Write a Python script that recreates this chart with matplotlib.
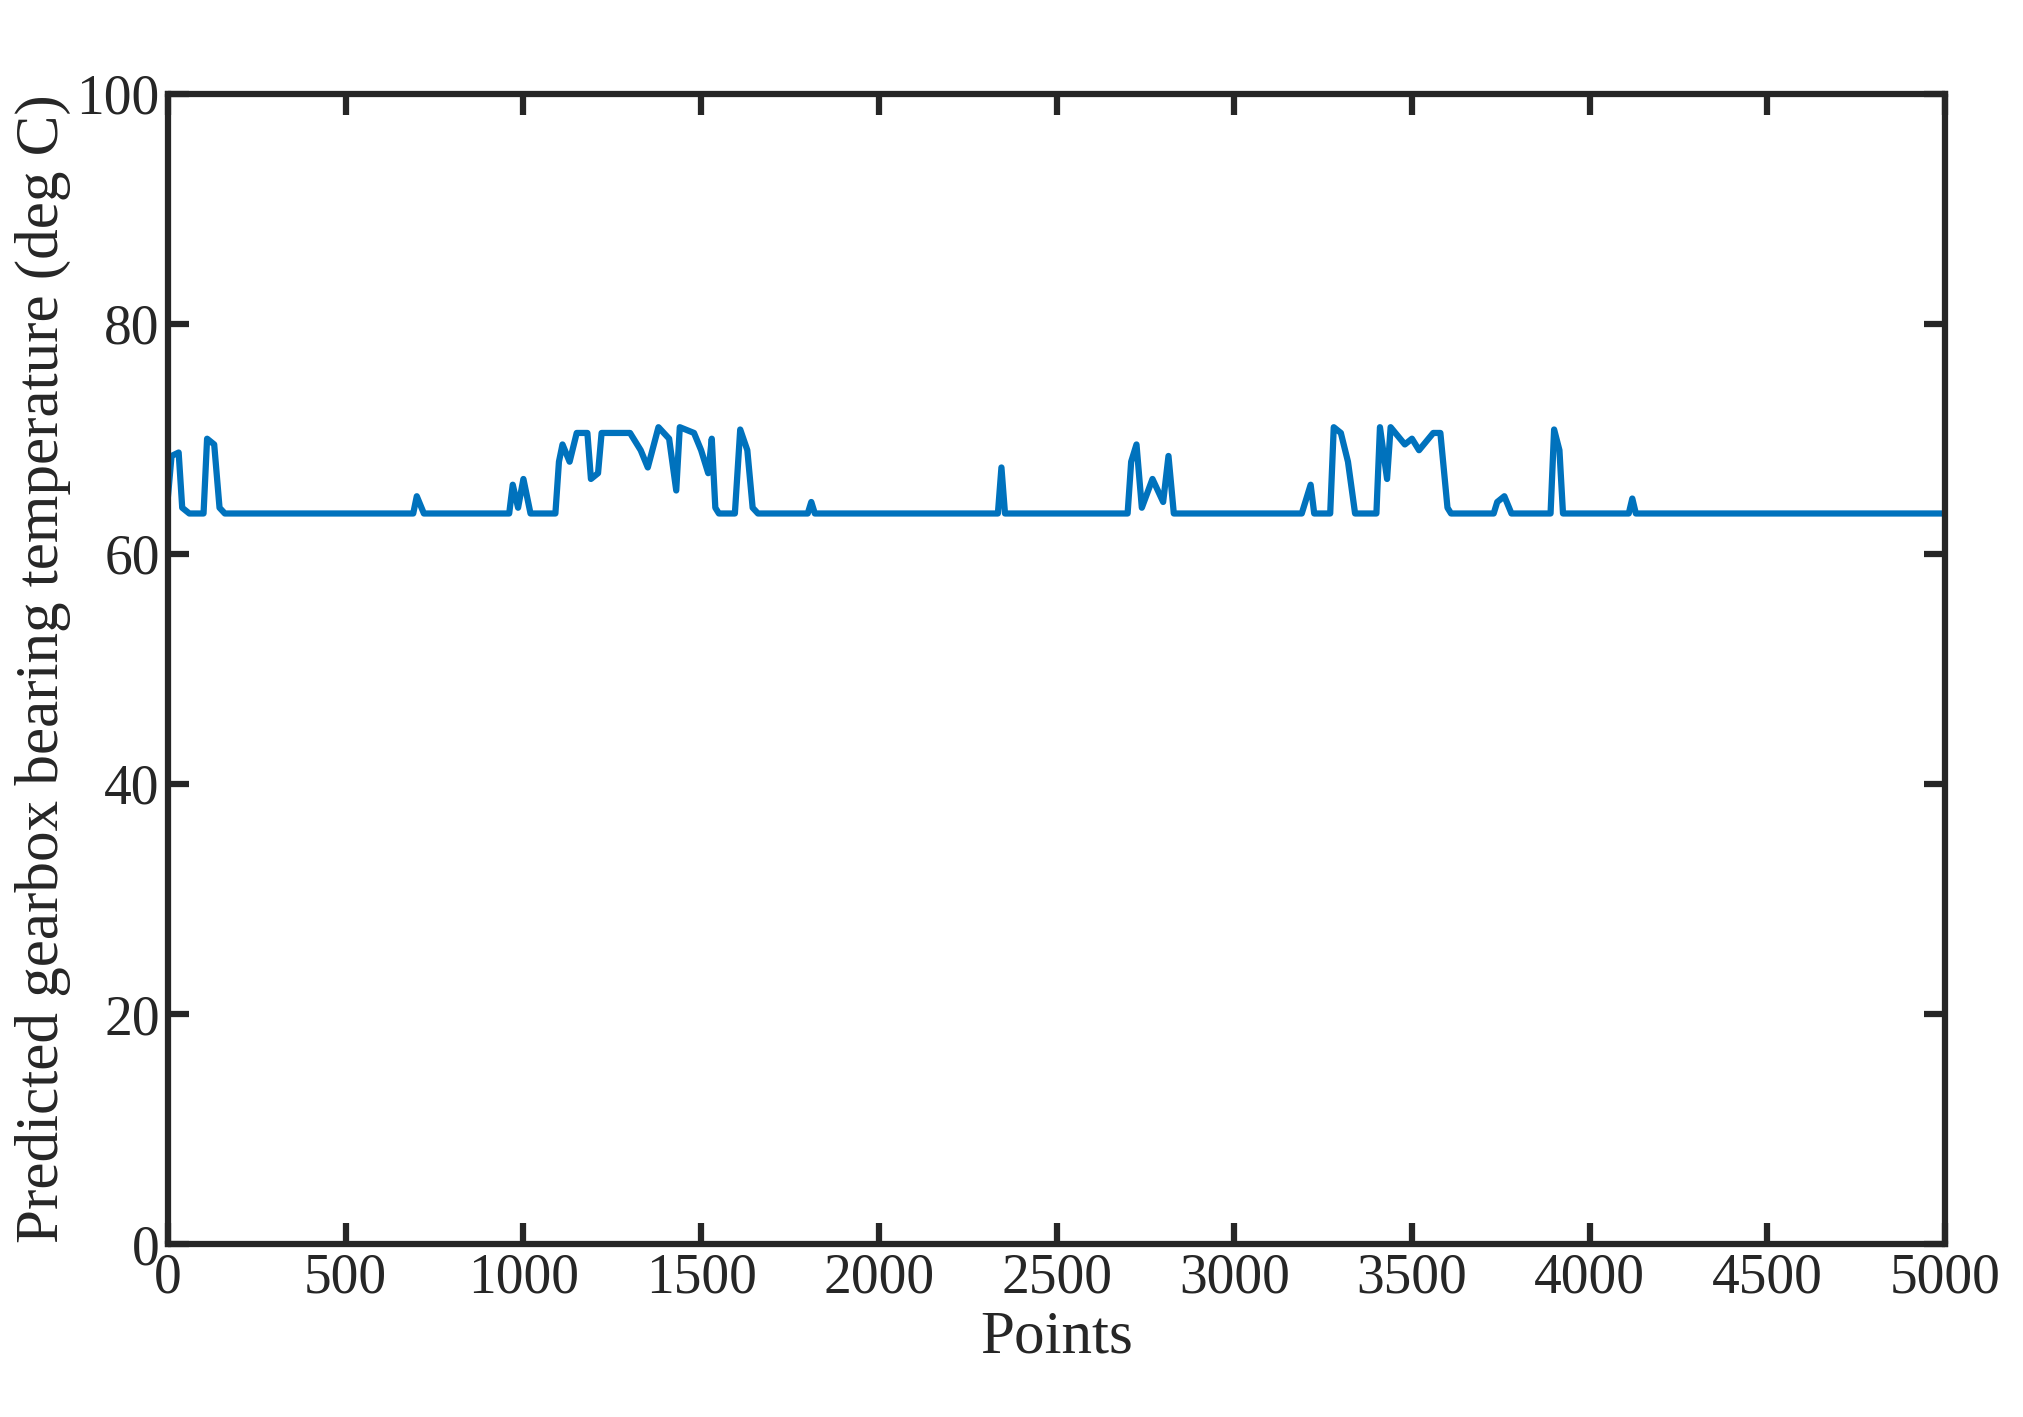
import matplotlib
matplotlib.use("Agg")
import matplotlib.pyplot as plt

# key points
points_x = [0, 10, 30, 40, 60, 100, 110, 130, 145, 160,
            690, 700, 720,
            960, 970, 985, 1000, 1020,
            1090, 1100, 1110, 1130, 1150, 1180, 1190, 1210, 1220, 1300, 1330, 1350,
            1380, 1410, 1430, 1440, 1480, 1500, 1520, 1530, 1540, 1550,
            1595, 1610, 1630, 1645, 1660,
            1800, 1810, 1820,
            2335, 2345, 2355,
            2700, 2710, 2725, 2740, 2770, 2800, 2815, 2830,
            3190, 3200, 3215, 3225,
            3270, 3280, 3300, 3320, 3340,
            3400, 3410, 3430, 3440, 3480, 3500, 3520, 3560, 3580, 3600, 3610,
            3730, 3740, 3760, 3780,
            3890, 3900, 3915, 3925,
            4110, 4120, 4130, 5000]
points_y = [65, 68.5, 68.8, 64, 63.5, 63.5, 70, 69.5, 64, 63.5,
            63.5, 65, 63.5,
            63.5, 66, 64, 66.5, 63.5,
            63.5, 68, 69.5, 68, 70.5, 70.5, 66.5, 67, 70.5, 70.5, 69, 67.5,
            71, 70, 65.5, 71, 70.5, 69, 67, 70, 64, 63.5,
            63.5, 70.8, 69, 64, 63.5,
            63.5, 64.5, 63.5,
            63.5, 67.5, 63.5,
            63.5, 68, 69.5, 64, 66.5, 64.5, 68.5, 63.5,
            63.5, 64.5, 66, 63.5,
            63.5, 71, 70.5, 68, 63.5,
            63.5, 71, 66.5, 71, 69.5, 70, 69, 70.5, 70.5, 64, 63.5,
            63.5, 64.5, 65, 63.5,
            63.5, 70.8, 69, 63.5,
            63.5, 64.8, 63.5, 63.5]
x_ticks = [0, 500, 1000, 1500, 2000, 2500, 3000, 3500, 4000, 4500, 5000]
y_ticks = [0, 20, 40, 60, 80, 100]

plt.rcParams['font.family'] = ['Liberation Serif', 'DejaVu Serif']
fig = plt.figure(figsize=(20.24, 14.17), dpi=100)
ax = fig.add_axes([0.083, 0.122, 0.878, 0.812])
ax.plot(points_x, points_y, color='#0072BD', linewidth=4.5)
ax.set_xlim(0, 5000)
ax.set_ylim(0, 100)
ax.set_xticks(x_ticks)
ax.set_yticks(y_ticks)
ax.tick_params(direction='in', length=15, width=4.5, labelsize=40, top=True, right=True, colors='#262626', pad=6)
for s in ax.spines.values():
    s.set_linewidth(4.5)
    s.set_color('#262626')
ax.set_xlabel('Points', fontsize=44, color='#262626', labelpad=4)
ax.set_ylabel('Predicted gearbox bearing temperature (deg C)', fontsize=44, color='#262626', labelpad=4)
fig.savefig('out.png', dpi=100)
